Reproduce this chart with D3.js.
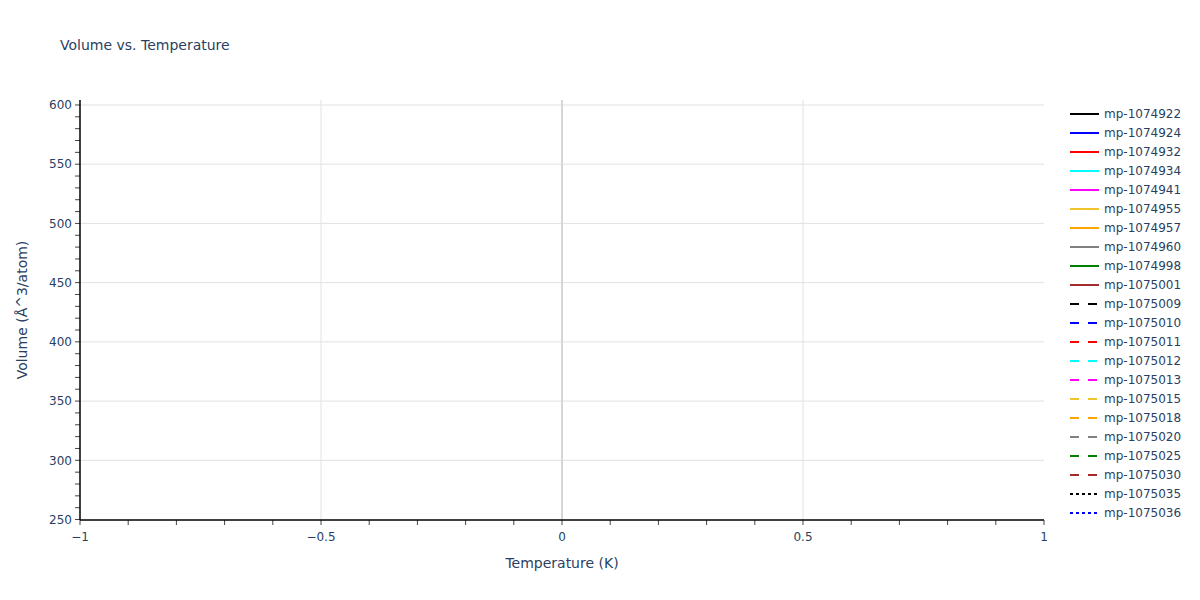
<!DOCTYPE html>
<html>
<head>
<meta charset="utf-8">
<script src="https://cdn.jsdelivr.net/npm/d3@7"></script>
<style>
  body { margin: 0; background: #fff; }
  text { font-family: "DejaVu Sans", verdana, arial, sans-serif; fill: #2a3f5f; }
</style>
</head>
<body>
<div id="chart"></div>
<script>
// Volume vs. Temperature – every trace is empty, only axes and legend show

const seriesNames = [
    'mp-1074922', 'mp-1074924', 'mp-1074932', 'mp-1074934', 'mp-1074941',
    'mp-1074955', 'mp-1074957', 'mp-1074960', 'mp-1074998', 'mp-1075001',
    'mp-1075009', 'mp-1075010', 'mp-1075011', 'mp-1075012', 'mp-1075013',
    'mp-1075015', 'mp-1075018', 'mp-1075020', 'mp-1075025', 'mp-1075030',
    'mp-1075035', 'mp-1075036'
];
const seriesColors = [
    'black', 'blue', 'red', 'cyan', 'magenta', '#f0c22c', 'orange', 'gray', 'green', 'brown',
    'black', 'blue', 'red', 'cyan', 'magenta', '#f0c22c', 'orange', 'gray', 'green', 'brown',
    'black', 'blue'
];
const seriesDash = [
    'solid', 'solid', 'solid', 'solid', 'solid', 'solid', 'solid', 'solid', 'solid', 'solid',
    'dash', 'dash', 'dash', 'dash', 'dash', 'dash', 'dash', 'dash', 'dash', 'dash',
    'dot', 'dot'
];
// no points survive in any trace
const temperatures = [];
const volumes = [];

const xRange = [-1, 1];
const yRange = [249.6, 604.2];
const xTicks = [-1, -0.5, 0, 0.5, 1];
const yTicks = [250, 300, 350, 400, 450, 500, 550, 600];

const width = 1200;
const height = 600;
const margin = { top: 100, right: 156, bottom: 80, left: 80 };
const plotW = width - margin.left - margin.right;
const plotH = height - margin.top - margin.bottom;

const dashArray = { solid: null, dash: '9,9', dot: '3,3' };

const svg = d3.select('#chart')
    .append('svg')
    .attr('width', width)
    .attr('height', height);

const x = d3.scaleLinear().domain(xRange).range([0, plotW]);
const y = d3.scaleLinear().domain(yRange).range([plotH, 0]);

const g = svg.append('g').attr('transform', `translate(${margin.left},${margin.top})`);

// Grid
g.selectAll('.hgrid')
    .data(yTicks.filter(v => v !== 250))
    .enter().append('line')
    .attr('x1', 0).attr('x2', plotW)
    .attr('y1', d => y(d)).attr('y2', d => y(d))
    .attr('stroke', '#e2e2e2').attr('stroke-width', 1);

g.selectAll('.vgrid')
    .data(xTicks.filter(v => v !== -1 && v !== 0 && v !== 1))
    .enter().append('line')
    .attr('x1', d => x(d)).attr('x2', d => x(d))
    .attr('y1', 0).attr('y2', plotH)
    .attr('stroke', '#e2e2e2').attr('stroke-width', 1);

// Zero line
g.append('line')
    .attr('x1', x(0)).attr('x2', x(0))
    .attr('y1', 0).attr('y2', plotH)
    .attr('stroke', '#d6d6d6').attr('stroke-width', 2);

// Traces (empty)
const line = d3.line().x(d => x(d[0])).y(d => y(d[1]));
seriesNames.forEach((name, i) => {
    const pts = temperatures.map((t, j) => [t, volumes[j]]);
    g.append('path')
        .datum(pts)
        .attr('fill', 'none')
        .attr('stroke', seriesColors[i])
        .attr('stroke-width', 2)
        .attr('stroke-dasharray', dashArray[seriesDash[i]])
        .attr('d', pts.length ? line(pts) : null);
});

// X axis with minor ticks
const xMinor = d3.range(-10, 11).map(v => v / 10);
const xAxis = g.append('g').attr('transform', `translate(0,${plotH})`);
xAxis.selectAll('.tick-minor')
    .data(xMinor)
    .enter().append('line')
    .attr('x1', d => x(d)).attr('x2', d => x(d))
    .attr('y1', 0).attr('y2', 5)
    .attr('stroke', '#444');
xAxis.append('line')
    .attr('x1', 0).attr('x2', plotW)
    .attr('stroke', '#000').attr('stroke-width', 1.5);
xAxis.selectAll('.tick-label')
    .data(xTicks)
    .enter().append('text')
    .attr('x', d => x(d))
    .attr('y', 21)
    .attr('text-anchor', 'middle')
    .style('font-size', '12px')
    .text(d => d < 0 ? '\u2212' + Math.abs(d) : d);

// Y axis with minor ticks
const yMinor = d3.range(250, 601, 10);
const yAxis = g.append('g');
yAxis.selectAll('.tick-minor')
    .data(yMinor)
    .enter().append('line')
    .attr('x1', -5).attr('x2', 0)
    .attr('y1', d => y(d)).attr('y2', d => y(d))
    .attr('stroke', '#444');
yAxis.append('line')
    .attr('y1', 0).attr('y2', plotH)
    .attr('stroke', '#000').attr('stroke-width', 1.5);
yAxis.selectAll('.tick-label')
    .data(yTicks)
    .enter().append('text')
    .attr('x', -8)
    .attr('y', d => y(d))
    .attr('dy', '0.35em')
    .attr('text-anchor', 'end')
    .style('font-size', '12px')
    .text(d => d);

// Titles
svg.append('text')
    .attr('x', 60).attr('y', 50)
    .style('font-size', '14px')
    .text('Volume vs. Temperature');

svg.append('text')
    .attr('x', margin.left + plotW / 2)
    .attr('y', 568)
    .attr('text-anchor', 'middle')
    .style('font-size', '14px')
    .text('Temperature (K)');

svg.append('text')
    .attr('transform', `translate(27,${margin.top + plotH / 2}) rotate(-90)`)
    .attr('text-anchor', 'middle')
    .style('font-size', '14px')
    .text('Volume (Å^3/atom)');

// Legend
const legend = svg.append('g').attr('transform', 'translate(1070,114)');
seriesNames.forEach((name, i) => {
    const row = legend.append('g').attr('transform', `translate(0,${i * 19})`);
    row.append('line')
        .attr('x1', 0).attr('x2', 29)
        .attr('stroke', seriesColors[i])
        .attr('stroke-width', 2)
        .attr('stroke-dasharray', dashArray[seriesDash[i]]);
    row.append('text')
        .attr('x', 34)
        .attr('dy', '0.35em')
        .style('font-size', '12px')
        .text(name);
});
</script>
</body>
</html>
